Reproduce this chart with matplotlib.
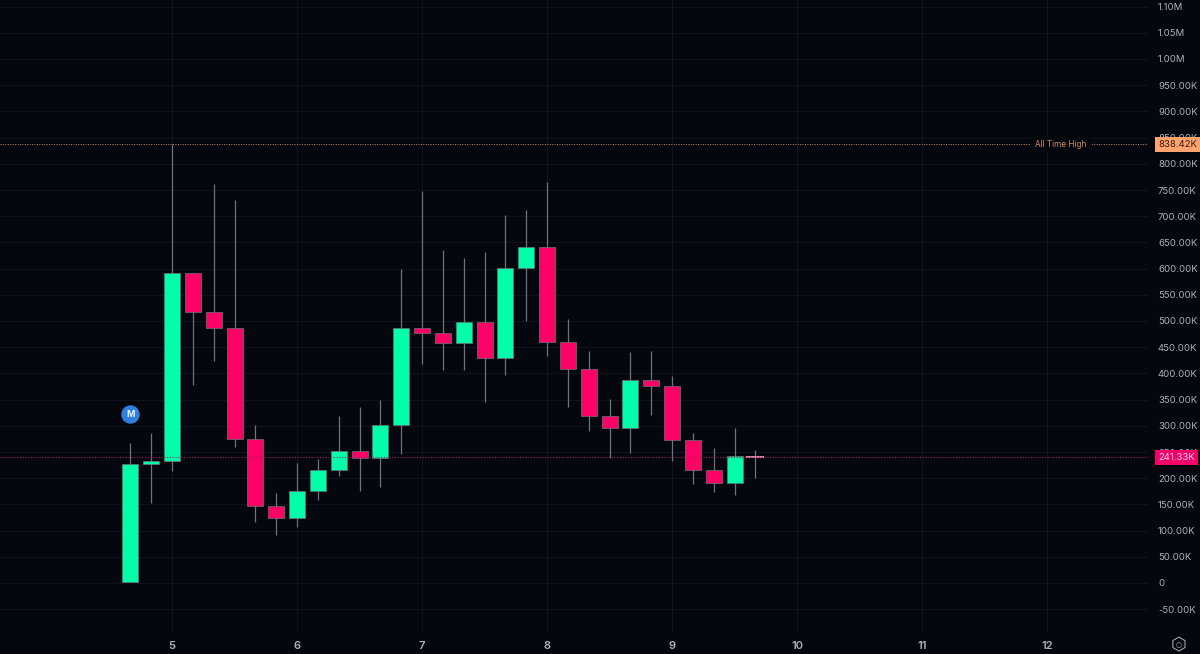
import numpy as np
import matplotlib
matplotlib.use("Agg")
import matplotlib.pyplot as plt

# values in thousands, x is in the chart's own time units (six candles per unit)
opens = [2, 227, 233, 592, 517, 487, 275, 147, 124, 176, 216, 252, 239, 302, 487, 477,
         458, 498, 429, 601, 641, 460, 408, 319, 296, 387, 376, 273, 216, 191, 242]
closes = [227, 233, 592, 517, 487, 275, 147, 124, 176, 216, 252, 239, 302, 487, 477, 458,
          498, 429, 601, 641, 460, 408, 319, 296, 387, 376, 273, 216, 191, 242, 241.33]
highs = [267, 286, 838.42, 592, 762, 731, 302, 172, 229, 237, 319, 336, 349, 600, 748, 635,
         620, 632, 702, 712, 765, 504, 443, 351, 441, 443, 395, 286, 258, 296, 254]
lows = [2, 153, 214, 378, 424, 260, 116, 92, 107, 158, 204, 176, 183, 246, 418, 406,
        406, 345, 397, 500, 433, 336, 290, 239, 248, 320, 233, 189, 174, 168, 200]
first_x = 14 / 3
candle_step = 1 / 6

x_ticks = [5, 6, 7, 8, 9, 10, 11, 12]
y_ticks = list(range(-50, 1101, 50))
ath = 838.42
last_price = 241.33

BG = "#05070f"
GREEN = "#00ffa8"
RED = "#ff0066"
GRID = "#10131b"
WICK = "#6e727c"
LABEL = "#b0b2b8"


def y_label(v):
    if v == 0:
        return "0"
    if abs(v) >= 1000:
        return f"{v / 1000:.2f}M"
    return f"{v:.2f}K"


plt.rcParams["font.family"] = ["Inter", "DejaVu Sans"]

fig = plt.figure(figsize=(12, 6.54), dpi=100, facecolor=BG)
ax = fig.add_axes([0, 22 / 654, 1148 / 1200, 632 / 654], facecolor=BG)

# pixel mapping: x=5 at 172px with 125px per unit, y=0 at 583px with 0.524px per K
ax.set_xlim(5 - 172 / 125, 5 + (1148 - 172) / 125)
ax.set_ylim((583 - 632) / 0.524, 583 / 0.524)

for side in ax.spines.values():
    side.set_visible(False)
ax.grid(True, color=GRID, linewidth=0.8)
ax.set_axisbelow(True)

ax.set_xticks(x_ticks)
ax.set_xticklabels([str(t) for t in x_ticks], fontsize=8, fontweight="semibold", color=LABEL)
ax.yaxis.tick_right()
ax.set_yticks(y_ticks)
ax.set_yticklabels([y_label(t) for t in y_ticks], fontsize=6.9, color=LABEL, ha="left")
ax.tick_params(axis="both", length=0)
ax.tick_params(axis="y", pad=7.2)
ax.tick_params(axis="x", pad=6.5)

xs = first_x + np.arange(len(opens)) * candle_step
for x, o, c, h, l in zip(xs, opens, closes, highs, lows):
    ax.plot([x, x], [l, h], color=WICK, linewidth=0.9, zorder=3, solid_capstyle="butt")
    color = GREEN if c >= o else RED
    body = abs(c - o)
    if body < 2:
        ax.plot([x - 0.064, x + 0.064], [c, c], color="#d98aa8", linewidth=1.4, zorder=4)
    else:
        ax.bar(x, body, bottom=min(o, c), width=0.128, color=color,
               edgecolor=WICK, linewidth=0.5, zorder=4)

# price lines and their labels
ax.axhline(ath, color="#b98a70", linewidth=0.7, linestyle=(0, (1, 1.5)), zorder=2)
ax.axhline(last_price, color="#a01a50", linewidth=0.8, linestyle=(0, (1, 1.5)), zorder=5)

ax.text(12.11, ath, "All Time High", fontsize=5.9, color="#c98a66", ha="center",
        va="center_baseline", zorder=5, bbox=dict(facecolor=BG, edgecolor="none", pad=3))
ax.annotate(f"{ath:.2f}K", xy=(1, ath), xycoords=("axes fraction", "data"),
            xytext=(7.2, -0.5), textcoords="offset points", fontsize=6.9, color="#3a1c0c",
            ha="left", va="center", annotation_clip=False, zorder=6,
            bbox=dict(facecolor="#ffa36e", edgecolor="none", boxstyle="square,pad=0.3"))
ax.annotate(f"{last_price:.2f}K", xy=(1, last_price), xycoords=("axes fraction", "data"),
            xytext=(7.2, -0.5), textcoords="offset points", fontsize=6.9, color="#ffd8e6",
            ha="left", va="center", annotation_clip=False, zorder=6,
            bbox=dict(facecolor="#f5006a", edgecolor="none", boxstyle="square,pad=0.3"))

# event marker above the first candle
ax.scatter([xs[0]], [322], s=150, color="#2f7fde", zorder=6)
ax.text(xs[0], 322, "M", fontsize=6.5, fontweight="bold", color="#e8f0fb",
        ha="center", va="center", zorder=7)

# settings icon in the corner
fig.text(1179 / 1200, 9 / 654, "\u2b21", fontsize=13, color=LABEL, ha="center", va="center",
         family=["DejaVu Sans"])
fig.text(1179 / 1200, 9 / 654, "\u25cb", fontsize=5, color=LABEL, ha="center", va="center",
         family=["DejaVu Sans"])

fig.savefig("out.png", dpi=100, facecolor=BG)
